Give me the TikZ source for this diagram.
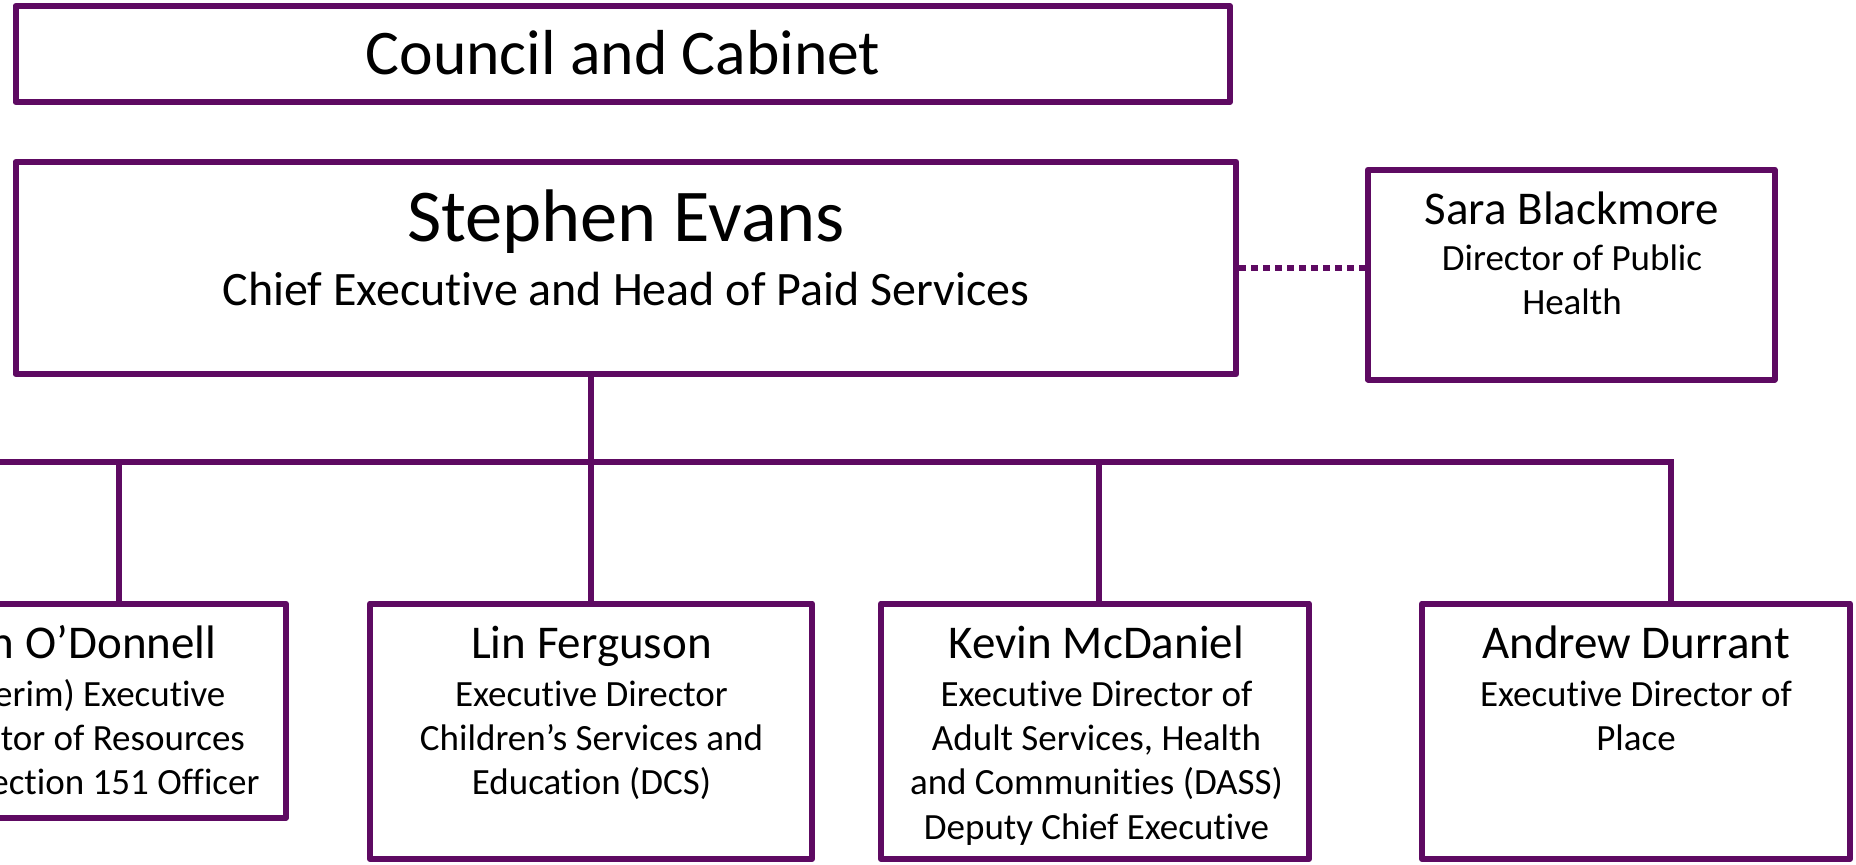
\documentclass[tikz,border=0pt]{standalone}
\usepackage{fontspec}
\setmainfont{Carlito}[Ligatures=NoCommon]
\definecolor{orgpurple}{HTML}{5E0A62}
\tikzset{
  box/.style={draw=orgpurple, line width=6pt, inner sep=0pt, line join=round},
  link/.style={draw=orgpurple, line width=6pt},
  dotlink/.style={draw=orgpurple, line width=6pt, dash pattern=on 7pt off 5pt},
  bigperson/.style={anchor=base, inner sep=0pt, font=\fontsize{74.5}{89}\selectfont},
  person/.style={anchor=base, inner sep=0pt, font=\fontsize{47}{56}\selectfont},
  role/.style={anchor=base, inner sep=0pt, align=flush center, text width=400pt, font=\fontsize{37}{44.4}\selectfont}
}
\begin{document}
\begin{tikzpicture}[x=1pt, y=-1pt]
    \path[use as bounding box, clip] (0,0) rectangle (1856,865);

    % Cajas
    \node[box, minimum width=1214.5pt, minimum height=96pt] (council) at (622.75,54) {};
    \node[box, minimum width=1220.8pt, minimum height=212pt] (ceo) at (625.9,268) {};
    \node[box, minimum width=406.5pt, minimum height=209.8pt] (dph) at (1571.25,274.6) {};
    \node[box, minimum width=402pt, minimum height=214.5pt] (res) at (84.75,710.75) {};
    \node[box, minimum width=442pt, minimum height=255.5pt] (cs) at (591,731.25) {};
    \node[box, minimum width=428pt, minimum height=255.5pt] (ads) at (1095,731.25) {};
    \node[box, minimum width=428pt, minimum height=255.5pt] (place) at (1636,731.25) {};

    % Textos
    \node[anchor=base, inner sep=0pt, font=\fontsize{63.6}{76}\selectfont] (councilname) at (623,74) {Council and Cabinet};
    \node[bigperson] (ceoname) at (626,241) {Stephen Evans};
    \node[anchor=base, inner sep=0pt, font=\fontsize{48}{58}\selectfont] (ceorole) at (626,305) {Chief Executive and Head of Paid Services};
    \node[person] (dphname) at (1572,224) {Sara Blackmore};
    \node[role, text width=380pt] (dphrole) at (1572,270) {Director of Public\\Health};
    \node[person] (resname) at (86,658) {Ian O’Donnell};
    \node[role] (resrole) at (84,706) {(Interim) Executive\\Director of Resources\\and Section 151 Officer};
    \node[person] (csname) at (591.5,658) {Lin Ferguson};
    \node[role] (csrole) at (591.5,706) {Executive Director\\Children’s Services and\\Education (DCS)};
    \node[person] (adsname) at (1096.5,658) {Kevin McDaniel};
    \node[role] (adsrole) at (1096.5,706) {Executive Director of\\Adult Services, Health\\and Communities (DASS)\\Deputy Chief Executive};
    \node[person] (placename) at (1636,658) {Andrew Durrant};
    \node[role] (placerole) at (1636,706) {Executive Director of\\Place};

    % Conexiones
    \coordinate (busW) at (-60,462);
    \coordinate (j1) at (119,462);
    \coordinate (j2) at (591,462);
    \coordinate (j3) at (1099,462);
    \coordinate (j4) at (1671,462);
    \draw[link] (j2 |- ceo.south) -- (j2 |- cs.north);
    \draw[link] (busW) -- (j4) -- (j4 |- place.north);
    \draw[link] (j1) -- (j1 |- res.north);
    \draw[link] (j3) -- (j3 |- ads.north);
    \draw[dotlink] (ceo.east) -- (ceo.east -| dph.west);
\end{tikzpicture}
\end{document}
